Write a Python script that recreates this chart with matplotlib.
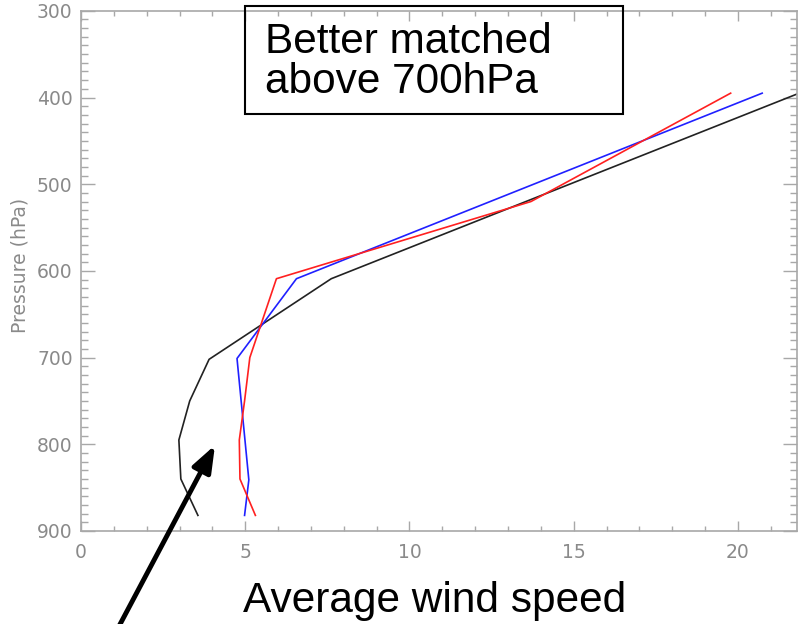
import matplotlib
matplotlib.use("Agg")
import matplotlib.pyplot as plt
from matplotlib.patches import Rectangle
from matplotlib.ticker import MultipleLocator

# wind speed profiles (x = speed, p = pressure in hPa)
BLACK_P = [882, 840, 795, 750, 702, 609, 393]
BLACK_X = [3.56, 3.04, 2.98, 3.31, 3.90, 7.62, 22.0]

BLUE_P = [882, 841, 701, 609, 395]
BLUE_X = [4.98, 5.11, 4.75, 6.56, 20.74]

RED_P = [882, 840, 795, 750, 700, 609, 520, 395]
RED_X = [5.31, 4.84, 4.82, 4.98, 5.14, 5.95, 13.70, 19.78]

X_TICKS = [0, 5, 10, 15, 20]
Y_TICKS = [300, 400, 500, 600, 700, 800, 900]

AXIS_GREY = "#a8a8a8"
LABEL_GREY = "#8a8a8a"

W, H = 798, 624


def main():
    fig = plt.figure(figsize=(W / 100, H / 100), dpi=100)
    ax = fig.add_axes([81 / W, (H - 531) / H, (797 - 81) / W, (531 - 10.8) / H])

    ax.plot(BLACK_X, BLACK_P, color="#222222", lw=1.2)
    ax.plot(BLUE_X, BLUE_P, color="#2020ff", lw=1.2)
    ax.plot(RED_X, RED_P, color="#ff2020", lw=1.2)

    ax.set_xlim(0, 21.8)
    ax.set_ylim(900, 300)
    ax.set_xticks(X_TICKS)
    ax.set_yticks(Y_TICKS)
    ax.xaxis.set_minor_locator(MultipleLocator(1))
    ax.yaxis.set_minor_locator(MultipleLocator(10))

    for s in ax.spines.values():
        s.set_color(AXIS_GREY)
        s.set_linewidth(1.2)

    ax.tick_params(which="both", direction="in", top=True, right=True,
                   color=AXIS_GREY, width=1.0, labelcolor=LABEL_GREY,
                   labelsize=13.5)
    ax.tick_params(axis="y", which="major", length=10, pad=6)
    ax.tick_params(axis="y", which="minor", length=5)
    ax.tick_params(axis="x", which="major", length=7, pad=9)
    ax.tick_params(axis="x", which="minor", length=3.5)

    ax.set_ylabel("Pressure (hPa)", color=LABEL_GREY, fontsize=13.5)
    ax.yaxis.set_label_coords((20 - 81) / (797 - 81), 0.51)
    ax.yaxis.label.set_va("center")

    # annotation box at the top
    fig.patches.append(Rectangle((245 / W, (H - 114) / H), (623 - 245) / W, (114 - 6) / H,
                                 transform=fig.transFigure, fill=False,
                                 edgecolor="black", lw=1.5))
    fig.text(265 / W, (H - 53) / H, "Better matched", family="Liberation Sans",
             fontsize=30.5, va="baseline", ha="left")
    fig.text(265 / W, (H - 93) / H, "above 700hPa", family="Liberation Sans",
             fontsize=30.5, va="baseline", ha="left")

    fig.text(243 / W, (H - 612) / H, "Average wind speed", family="Liberation Sans",
             fontsize=30.5, va="baseline", ha="left")

    ax.annotate("", xy=(4.08, 801), xycoords="data",
                xytext=(117, -6), textcoords="figure pixels",
                annotation_clip=False,
                arrowprops=dict(arrowstyle="-|>,head_length=0.8,head_width=0.3",
                                mutation_scale=20, lw=3.5, color="black",
                                shrinkA=0, shrinkB=0))

    fig.savefig("out.png", dpi=100)


if __name__ == "__main__":
    main()
